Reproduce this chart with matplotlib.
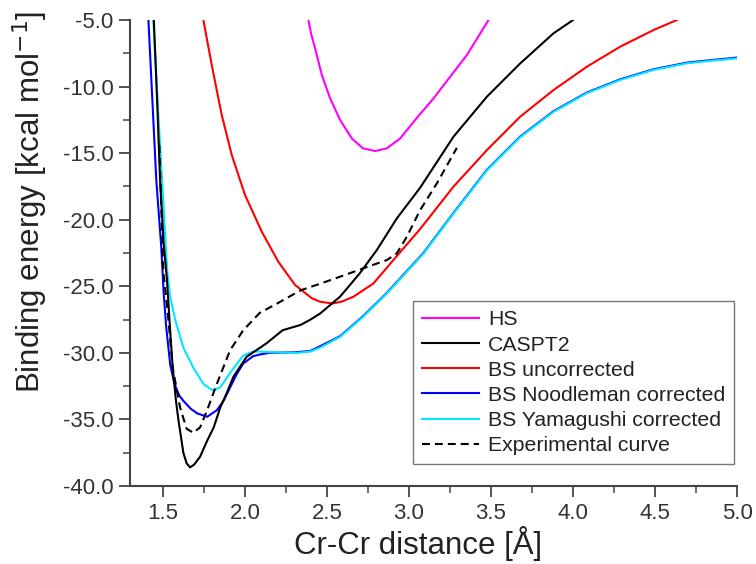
import matplotlib
matplotlib.use("Agg")
import matplotlib.pyplot as plt
from matplotlib.ticker import MultipleLocator, FormatStrFormatter

plt.rcParams['font.family'] = ['Liberation Sans', 'DejaVu Sans']

# ---- data ----
hs_x = [2.387, 2.405, 2.428, 2.469, 2.52, 2.58, 2.652, 2.72, 2.794, 2.865, 2.946, 3.048, 3.149, 3.251, 3.353, 3.42, 3.485]
hs_y = [-5.0, -6.1, -7.13, -9.13, -10.9, -12.5, -13.9, -14.64, -14.84, -14.64, -13.9, -12.35, -10.9, -9.26, -7.63, -6.3, -5.0]

cas_x = [1.445, 1.465, 1.483, 1.505, 1.525, 1.545, 1.56, 1.58, 1.595, 1.625, 1.645, 1.666, 1.69, 1.727, 1.77, 1.81, 1.85, 1.89,
         1.93, 2.01, 2.07, 2.13, 2.23, 2.34, 2.40, 2.459, 2.58, 2.70, 2.804, 2.926, 3.068, 3.271, 3.475, 3.678, 3.881, 4.0]
cas_y = [-5.0, -11.0, -17.0, -21.8, -24.5, -28.4, -31.1, -33.6, -35.05, -37.5, -38.3, -38.6, -38.4, -37.8, -36.6, -35.6, -34.1, -33.0,
         -31.8, -30.3, -29.8, -29.3, -28.3, -27.9, -27.5, -27.04, -25.78, -24.03, -22.28, -19.9, -17.6, -13.77, -10.76, -8.26, -6.0, -5.0]

bsu_x = [1.747, 1.798, 1.859, 1.92, 2.001, 2.103, 2.204, 2.306, 2.408, 2.459, 2.509, 2.54, 2.59, 2.662, 2.784, 2.905, 3.068,
         3.271, 3.475, 3.678, 3.881, 4.084, 4.288, 4.491, 4.633]
bsu_y = [-5.0, -8.38, -12.14, -15.14, -18.15, -20.9, -23.16, -24.9, -25.9, -26.16, -26.25, -26.28, -26.15, -25.78, -24.78, -23.03, -20.7,
         -17.52, -14.77, -12.26, -10.26, -8.51, -7.0, -5.75, -5.0]

noo_x = [1.412, 1.46, 1.49, 1.505, 1.52, 1.545, 1.57, 1.60, 1.625, 1.67, 1.71, 1.77, 1.83, 1.87, 1.91, 1.95, 1.99, 2.05, 2.10,
         2.15, 2.32, 2.40, 2.459, 2.58, 2.72, 2.865, 2.95, 3.088, 3.271, 3.475, 3.678, 3.881, 4.084, 4.288, 4.491, 4.694, 4.85, 5.0]
noo_y = [-5.0, -17.0, -22.0, -25.5, -28.0, -30.9, -32.3, -33.2, -33.6, -34.2, -34.55, -34.8, -34.3, -33.6, -32.6, -31.6, -30.8, -30.25, -30.1,
         -30.0, -29.95, -29.85, -29.5, -28.75, -27.25, -25.5, -24.35, -22.5, -19.5, -16.25, -13.75, -11.85, -10.45, -9.45, -8.7, -8.2, -8.0, -7.82]

yam_x = [1.442, 1.47, 1.495, 1.527, 1.545, 1.575, 1.625, 1.685, 1.745, 1.80, 1.85, 1.91, 1.99, 2.05, 2.10, 2.15, 2.32, 2.40,
         2.459, 2.58, 2.72, 2.865, 2.95, 3.088, 3.271, 3.475, 3.678, 3.881, 4.084, 4.288, 4.491, 4.694, 4.85, 5.0]
yam_y = [-5.0, -11.5, -17.0, -23.9, -25.8, -27.5, -29.6, -31.1, -32.3, -32.8, -32.6, -31.5, -30.2, -29.9, -29.9, -29.95, -30.0, -29.9,
         -29.6, -28.8, -27.3, -25.55, -24.4, -22.55, -19.55, -16.3, -13.8, -11.9, -10.5, -9.5, -8.75, -8.25, -8.05, -7.88]

exp_x = [1.479, 1.49, 1.503, 1.53, 1.56, 1.605, 1.645, 1.685, 1.727, 1.77, 1.83, 1.91, 1.99, 2.09, 2.21, 2.34, 2.46, 2.58,
         2.72, 2.865, 2.926, 2.987, 3.068, 3.17, 3.292]
exp_y = [-14.4, -19.0, -23.9, -27.0, -31.1, -34.1, -35.7, -36.0, -35.6, -34.3, -32.3, -29.8, -28.3, -27.0, -26.2, -25.3, -24.8, -24.28,
         -23.66, -23.03, -22.53, -21.28, -19.28, -17.27, -14.6]

labels = ["HS", "CASPT2", "BS uncorrected", "BS Noodleman corrected", "BS Yamagushi corrected", "Experimental curve"]

x_ticks = [1.5, 2.0, 2.5, 3.0, 3.5, 4.0, 4.5, 5.0]
y_ticks = [-40.0, -35.0, -30.0, -25.0, -20.0, -15.0, -10.0, -5.0]

# ---- figure ----
fig = plt.figure(figsize=(7.56, 5.64), dpi=100)
ax = fig.add_axes([0.172, 0.1383, 0.803, 0.8262])

lw = 1.5
ax.plot(hs_x, hs_y, color='#ff00ff', lw=lw, label=labels[0], zorder=3)
ax.plot(cas_x, cas_y, color='black', lw=lw, label=labels[1], zorder=4)
ax.plot(bsu_x, bsu_y, color='#ff0000', lw=lw, label=labels[2], zorder=3)
ax.plot(noo_x, noo_y, color='#0000ff', lw=lw, label=labels[3], zorder=3)
ax.plot(yam_x, yam_y, color='#00e8ff', lw=lw, label=labels[4], zorder=3.5)
ax.plot(exp_x, exp_y, color='black', lw=lw, ls=(0, (3.8, 2.4)), label=labels[5], zorder=5)

ax.set_xlim(1.3, 5.0)
ax.set_ylim(-40.0, -5.0)
ax.set_xticks(x_ticks)
ax.set_yticks(y_ticks)
ax.xaxis.set_minor_locator(MultipleLocator(0.25))
ax.yaxis.set_minor_locator(MultipleLocator(2.5))
ax.xaxis.set_major_formatter(FormatStrFormatter('%.1f'))
ax.yaxis.set_major_formatter(FormatStrFormatter('%.1f'))

for s in ['top', 'right']:
    ax.spines[s].set_visible(False)
for s in ['left', 'bottom']:
    ax.spines[s].set_color('#444444')
    ax.spines[s].set_linewidth(1.5)

ax.tick_params(which='major', direction='out', length=8, width=1.3, color='#444444',
               labelsize=16, labelcolor='#333333', pad=4)
ax.tick_params(which='minor', direction='out', length=5, width=1.1, color='#444444')

fig.text(0.0397, 0.642, "Binding energy [kcal mol$^{-1}$]", rotation=90, fontsize=22.5,
         color='#222222', ha='center', va='center')
fig.text(0.553, 0.037, "Cr-Cr distance [Å]", fontsize=22.5, color='#222222', ha='center', va='center')

leg = ax.legend(loc='lower right', bbox_to_anchor=(0.995, 0.047), fontsize=15.3, frameon=True,
                fancybox=False, edgecolor='#555555', handlelength=2.7, handletextpad=0.4,
                labelspacing=0.29, borderpad=0.42, borderaxespad=0.0)
leg.get_frame().set_linewidth(1.0)
for t in leg.get_texts():
    t.set_color('#222222')

fig.savefig("out.png", dpi=100)
